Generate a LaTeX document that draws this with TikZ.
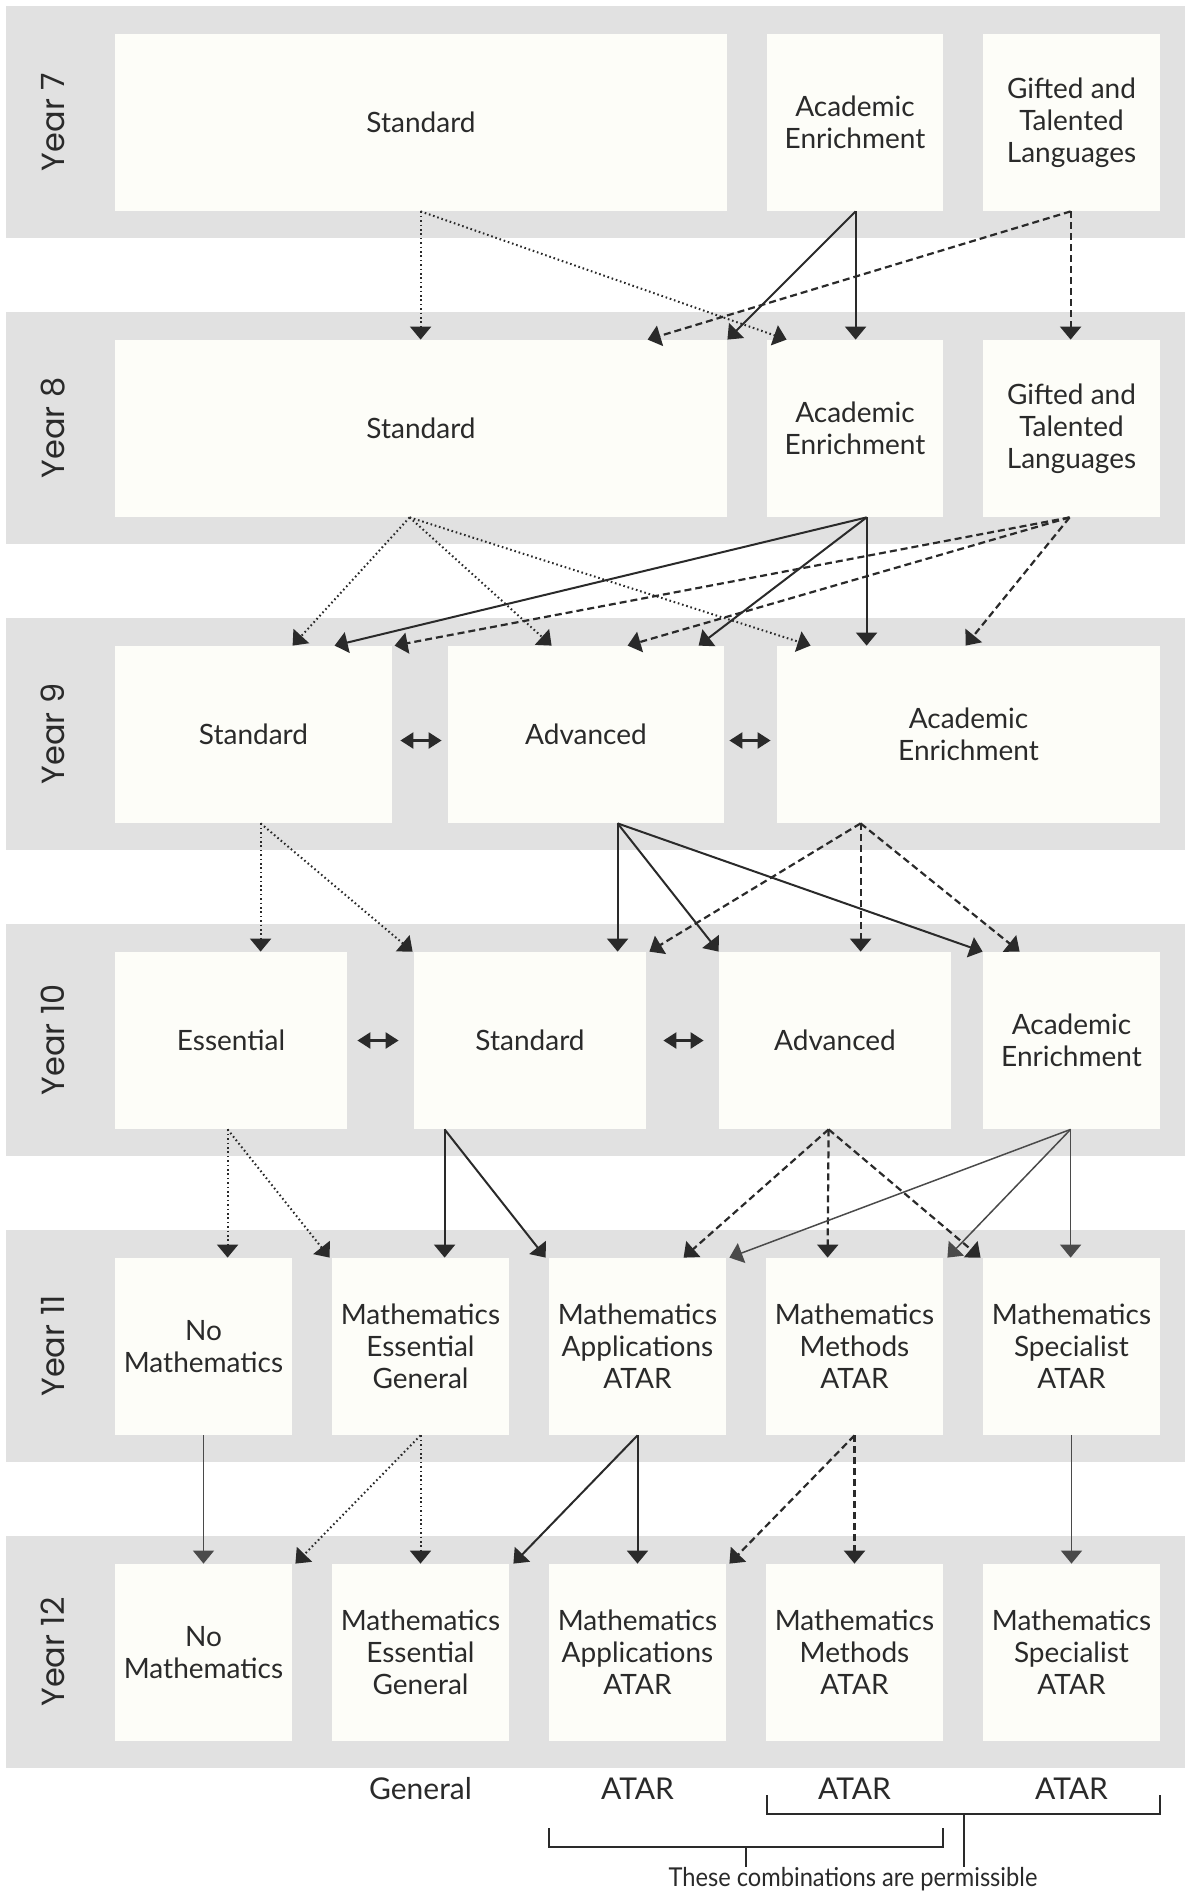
\documentclass[tikz,border=0pt]{standalone}
\usepackage{fontspec}
\setmainfont{Lato}
\newfontfamily\yearfont{Poppins}
\usetikzlibrary{arrows.meta,calc}
\definecolor{bandgray}{HTML}{E1E1E1}
\definecolor{boxfill}{HTML}{FDFDF8}
\definecolor{ink}{HTML}{2A2A2A}
\begin{document}
\begin{tikzpicture}[x=0.5pt,y=-0.5pt,
  course/.style={fill=boxfill, draw=none, inner sep=0pt, minimum height=88.5pt,
    align=center, font=\fontsize{14}{16}\selectfont, text=ink},
  yearlbl/.style={rotate=90, font=\yearfont\fontsize{16}{18}\selectfont, text=ink},
  bottomlbl/.style={font=\fontsize{15}{17}\selectfont, text=ink},
  tipped/.style={-{Triangle[length=6.5pt,width=10.5pt]}},
  solidarr/.style={tipped, line width=1pt, draw=ink},
  thinarr/.style={tipped, line width=0.75pt, draw=ink!85},
  dotarr/.style={tipped, line width=1pt, dash pattern=on 0.8pt off 1.4pt, draw=ink},
  dasharr/.style={tipped, line width=1.1pt, dash pattern=on 3.5pt off 2pt, draw=ink},
  twoway/.style={{Triangle[length=6.5pt,width=8pt]}-{Triangle[length=6.5pt,width=8pt]}, line width=1.2pt, draw=ink},
  bracket/.style={line width=1pt, draw=ink}
]
\useasboundingbox (0,0) rectangle (1185,1895);
% bands
\foreach \t in {6,312,618,924,1230,1536}
  \fill[bandgray] (6,\t) rectangle (1185,\t+232);
% year labels
\node[yearlbl] (yr7) at (53,122) {Year 7};
\node[yearlbl] (yr8) at (53,428) {Year 8};
\node[yearlbl] (yr9) at (53,734) {Year 9};
\node[yearlbl] (yr10) at (53,1040) {Year 10};
\node[yearlbl] (yr11) at (53,1346) {Year 11};
\node[yearlbl] (yr12) at (53,1652) {Year 12};
% Year 7
\node[course, minimum width=306pt] (s7) at (421,122.5) {Standard};
\node[course, minimum width=88pt] (ae7) at (855,122.5) {Academic\\Enrichment};
\node[course, minimum width=88.5pt] (gt7) at (1071.5,122.5) {Gifted and\\Talented\\Languages};
% Year 8
\node[course, minimum width=306pt] (s8) at (421,428.5) {Standard};
\node[course, minimum width=88pt] (ae8) at (855,428.5) {Academic\\Enrichment};
\node[course, minimum width=88.5pt] (gt8) at (1071.5,428.5) {Gifted and\\Talented\\Languages};
% Year 9
\node[course, minimum width=138.5pt] (s9) at (253.5,734.5) {Standard};
\node[course, minimum width=138pt] (a9) at (586,734.5) {Advanced};
\node[course, minimum width=191.5pt] (ae9) at (968.5,734.5) {Academic\\Enrichment};
% Year 10
\node[course, minimum width=116pt] (e10) at (231,1040.5) {Essential};
\node[course, minimum width=116pt] (s10) at (530,1040.5) {Standard};
\node[course, minimum width=116pt] (a10) at (835,1040.5) {Advanced};
\node[course, minimum width=88.5pt] (ae10) at (1071.5,1040.5) {Academic\\Enrichment};
% Year 11
\node[course, minimum width=88.5pt] (nm11) at (203.5,1346.5) {No\\Mathematics};
\node[course, minimum width=88.5pt] (meg11) at (420.5,1346.5) {Mathematics\\Essential\\General};
\node[course, minimum width=88.5pt] (maa11) at (637.5,1346.5) {Mathematics\\Applications\\ATAR};
\node[course, minimum width=88.5pt] (mma11) at (854.5,1346.5) {Mathematics\\Methods\\ATAR};
\node[course, minimum width=88.5pt] (msa11) at (1071.5,1346.5) {Mathematics\\Specialist\\ATAR};
% Year 12
\node[course, minimum width=88.5pt] (nm12) at (203.5,1652.5) {No\\Mathematics};
\node[course, minimum width=88.5pt] (meg12) at (420.5,1652.5) {Mathematics\\Essential\\General};
\node[course, minimum width=88.5pt] (maa12) at (637.5,1652.5) {Mathematics\\Applications\\ATAR};
\node[course, minimum width=88.5pt] (mma12) at (854.5,1652.5) {Mathematics\\Methods\\ATAR};
\node[course, minimum width=88.5pt] (msa12) at (1071.5,1652.5) {Mathematics\\Specialist\\ATAR};

% Year 7 -> 8
\draw[dotarr] ($(s7.south west)+(306,0)$) -- ($(s8.north west)+(306,0)$);
\draw[dotarr] ($(s7.south west)+(306,0)$) -- ($(ae8.north west)+(20,0)$);
\draw[solidarr] ($(ae7.south west)+(89,0)$) -- ($(ae8.north west)+(89,0)$);
\draw[solidarr] ($(ae7.south west)+(89,0)$) -- (s8.north east);
\draw[dasharr] ($(gt7.south west)+(88,0)$) -- ($(gt8.north west)+(88,0)$);
\draw[dasharr] ($(gt7.south west)+(88,0)$) -- ($(s8.north west)+(533,0)$);

% Year 8 -> 9
\draw[dotarr] ($(s8.south west)+(295,0)$) -- ($(s9.north west)+(178,0)$);
\draw[dotarr] ($(s8.south west)+(295,0)$) -- ($(a9.north west)+(104,0)$);
\draw[dotarr] ($(s8.south west)+(295,0)$) -- ($(ae9.north west)+(34,0)$);
\draw[solidarr] ($(ae8.south west)+(100,0)$) -- ($(s9.north west)+(220,0)$);
\draw[solidarr] ($(ae8.south west)+(100,0)$) -- ($(a9.north west)+(251,0)$);
\draw[solidarr] ($(ae8.south west)+(100,0)$) -- ($(ae9.north west)+(90,0)$);
\draw[dasharr] ($(gt8.south west)+(87,0)$) -- ($(s9.north west)+(280,0)$);
\draw[dasharr] ($(gt8.south west)+(87,0)$) -- ($(a9.north west)+(180,0)$);
\draw[dasharr] ($(gt8.south west)+(87,0)$) -- ($(ae9.north west)+(189,0)$);

% Year 9 -> 10
\draw[dotarr] ($(s9.south west)+(146,0)$) -- ($(e10.north west)+(146,0)$);
\draw[dotarr] ($(s9.south west)+(146,0)$) -- ($(s10.north west)+(-1,0)$);
\draw[solidarr] ($(a9.south west)+(170,0)$) -- ($(s10.north west)+(204,0)$);
\draw[solidarr] ($(a9.south west)+(170,0)$) -- (a10.north west);
\draw[solidarr] ($(a9.south west)+(170,0)$) -- (ae10.north west);
\draw[dasharr] ($(ae9.south west)+(84,0)$) -- ($(s10.north east)+(3,0)$);
\draw[dasharr] ($(ae9.south west)+(84,0)$) -- ($(a10.north west)+(142,0)$);
\draw[dasharr] ($(ae9.south west)+(84,0)$) -- ($(ae10.north west)+(37,0)$);

% Year 9 and 10 sideways moves
\draw[twoway] ($(s9.east)+(8,6)$) -- ($(a9.west)+(-6,6)$);
\draw[twoway] ($(a9.east)+(5,6)$) -- ($(ae9.west)+(-6,6)$);
\draw[twoway] ($(e10.east)+(10,0)$) -- ($(s10.west)+(-15,0)$);
\draw[twoway] ($(s10.east)+(17,0)$) -- ($(a10.west)+(-15,0)$);

% Year 10 -> 11
\draw[dotarr] ($(e10.south west)+(113,0)$) -- ($(nm11.north west)+(113,0)$);
\draw[dotarr] ($(e10.south west)+(113,0)$) -- ($(meg11.north west)+(-2,0)$);
\draw[solidarr] ($(s10.south west)+(31,0)$) -- ($(meg11.north west)+(113,0)$);
\draw[solidarr] ($(s10.south west)+(31,0)$) -- ($(maa11.north west)+(-3,0)$);
\draw[dasharr] ($(a10.south west)+(110,0)$) -- ($(maa11.north west)+(135,0)$);
\draw[dasharr] ($(a10.south west)+(110,0)$) -- ($(mma11.north west)+(62,0)$);
\draw[dasharr] ($(a10.south west)+(110,0)$) -- ($(msa11.north west)+(-2,0)$);
\draw[thinarr] ($(ae10.south west)+(88,0)$) -- ($(maa11.north east)+(3,0)$);
\draw[thinarr] ($(ae10.south west)+(88,0)$) -- ($(mma11.north east)+(4,0)$);
\draw[thinarr] ($(ae10.south west)+(88,0)$) -- ($(msa11.north west)+(88,0)$);

% Year 11 -> 12
\draw[thinarr] (nm11.south) -- (nm12.north);
\draw[dotarr] (meg11.south) -- (meg12.north);
\draw[dotarr] (meg11.south) -- ($(nm12.north east)+(3,0)$);
\draw[solidarr] (maa11.south) -- (maa12.north);
\draw[solidarr] (maa11.south) -- ($(meg12.north east)+(4,0)$);
\draw[dasharr] (mma11.south) -- (mma12.north);
\draw[dasharr] (mma11.south) -- ($(maa12.north east)+(3,0)$);
\draw[thinarr] (msa11.south) -- (msa12.north);

% bottom labels
\node[bottomlbl] (gen) at (420.5,1789) {General};
\node[bottomlbl] (atar1) at (637.5,1789) {ATAR};
\node[bottomlbl] (atar2) at (854.5,1789) {ATAR};
\node[bottomlbl] (atar3) at (1071.5,1789) {ATAR};
\node[font=\fontsize{13}{15}\selectfont, text=ink, inner sep=0pt] (note) at (853,1879)
  {\scalebox{0.91}[1]{These combinations are permissible}};

% brackets
\draw[bracket] (767,1795) -- (767,1814) -- (1160,1814) -- (1160,1795);
\draw[bracket] (549,1828) -- (549,1847) -- (942.5,1847) -- (942.5,1828);
\coordinate (rstem) at (963.5,1814);
\coordinate (lstem) at (745.7,1847);
\draw[bracket] (rstem) -- (rstem |- note.north);
\draw[bracket] (lstem) -- (lstem |- note.north);
\end{tikzpicture}
\end{document}
